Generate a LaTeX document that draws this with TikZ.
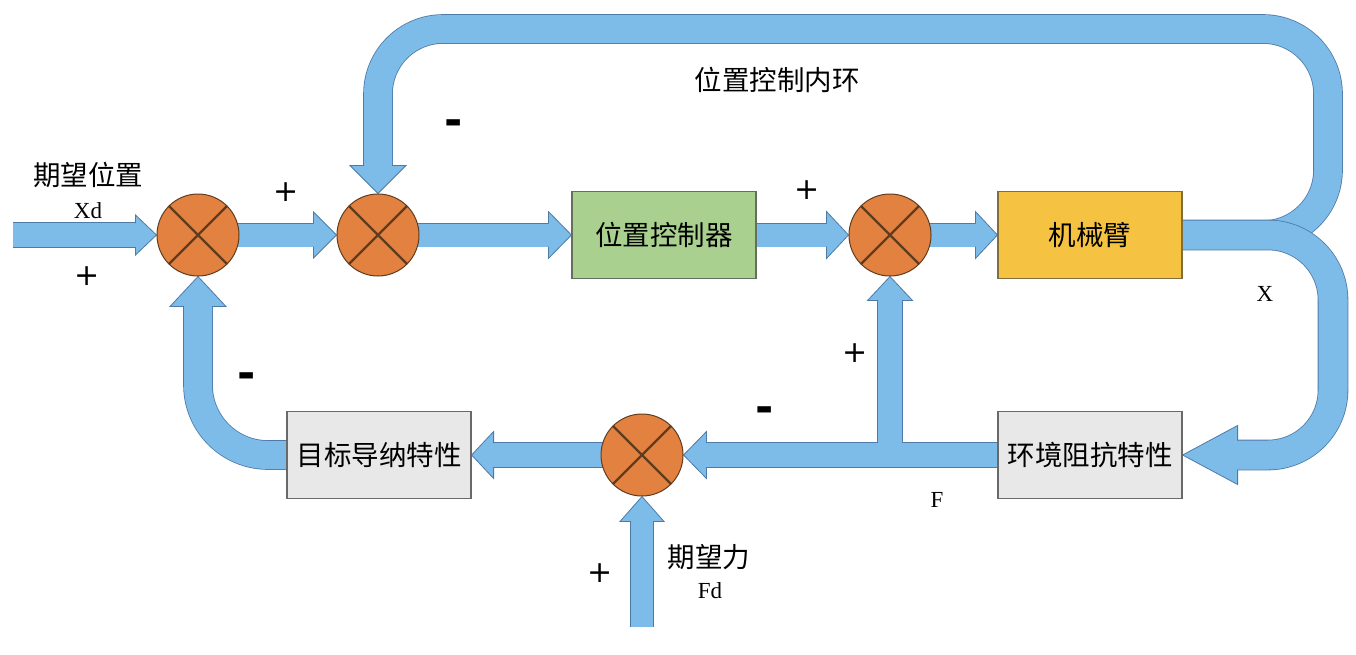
\documentclass[tikz,border=0pt]{standalone}
\usepackage{fontspec}
\setmainfont{Noto Sans CJK SC}
\newfontfamily\latinserif{Liberation Serif}
\newfontfamily\symsans{DejaVu Sans}
\usetikzlibrary{calc}
\definecolor{afill}{RGB}{125,188,232}
\definecolor{aline}{RGB}{78,122,168}
\definecolor{sumfill}{RGB}{226,129,64}
\definecolor{sumline}{RGB}{95,60,30}
\definecolor{ctrlfill}{RGB}{169,208,142}
\definecolor{ctrlline}{RGB}{100,112,92}
\definecolor{armfill}{RGB}{245,194,66}
\definecolor{armline}{RGB}{130,110,60}
\definecolor{grayfill}{RGB}{232,232,232}
\definecolor{grayline}{RGB}{105,105,105}
\pgfdeclarelayer{bg}
\pgfsetlayers{bg,main}
\tikzset{
  sumnode/.style={circle, draw=sumline, line width=1pt, fill=sumfill, minimum size=82pt, inner sep=0pt},
  crossline/.style={draw=sumline, line width=2.4pt},
  blk/.style={rectangle, minimum width=184pt, minimum height=87pt, line width=1.2pt, inner sep=0pt, font=\fontsize{27.5}{30}\selectfont},
  ctrlbox/.style={blk, fill=ctrlfill, draw=ctrlline},
  armbox/.style={blk, fill=armfill, draw=armline},
  graybox/.style={blk, fill=grayfill, draw=grayline},
  shaft/.style={draw=afill, line width=#1, preaction={draw=aline, line width=#1+1.6pt}},
  pics/ahead/.style args={#1/#2/#3}{code={
    \fill[afill] (0,0) -- (-#1,#2) -- (-#1,-#2) -- cycle;
    \draw[aline, line width=0.8pt, line join=miter] (-#1,#3) -- (-#1,#2) -- (0,0) -- (-#1,-#2) -- (-#1,-#3);
  }},
  cjk/.style={font=\fontsize{27.5}{30}\selectfont},
  lat/.style={font=\latinserif\fontsize{23}{26}\selectfont},
  plussign/.style={font=\symsans\fontsize{30}{32}\selectfont},
  minussign/.style={font=\symsans\bfseries\fontsize{44}{46}\selectfont},
}
\begin{document}
\begin{tikzpicture}[x=1pt,y=1pt]
\useasboundingbox (0,0) rectangle (1356,-654);
% nodes
\node[sumnode] (s1) at (198,-235) {};
\node[sumnode] (s2) at (378,-235) {};
\node[sumnode] (s3) at (890,-235) {};
\node[sumnode] (s4) at (642,-455) {};
\node[ctrlbox] (ctrl) at (664,-235) {位置控制器};
\node[armbox] (arm) at (1090,-235) {机械臂};
\node[graybox] (env) at (1090,-455) {环境阻抗特性};
\node[graybox] (adm) at (379,-455) {目标导纳特性};
\foreach \s in {s1,s2,s3,s4}
  \draw[crossline] (\s.north west) -- (\s.south east) (\s.north east) -- (\s.south west);
% labels
\node[cjk] (tloop) at (777,-80) {位置控制内环};
\node[cjk] (xdname) at (88,-175) {期望位置};
\node[lat] (xd) at (88,-211) {Xd};
\node[cjk] (fdname) at (709,-557) {期望力};
\node[lat] (fd) at (710,-591) {Fd};
\node[lat] (xlab) at (1265,-294) {X};
\node[lat] (flab) at (937,-500) {F};
\node[plussign] (p1) at (87,-276) {+};
\node[plussign] (p2) at (286,-192) {+};
\node[plussign] (p3) at (807,-190) {+};
\node[plussign] (p4) at (855,-353) {+};
\node[plussign] (p5) at (600,-573) {+};
\node[minussign] (m1) at (454,-128) {-};
\node[minussign] (m2) at (247,-381) {-};
\node[minussign] (m3) at (765,-415) {-};
% arrows
\begin{pgfonlayer}{bg}
\fill[white] (0,0) rectangle (1356,-654);
\coordinate (xin) at (13,-235);
\coordinate (fdin) at (642,-627);
\coordinate (fb) at (s3.center |- env.center);
% top loop
\draw[shaft=28pt, rounded corners=65pt] (arm.center) -- (1328,-235) -- (1328,-29) -- (s2.center |- 0,-29) -- ($(s2.north)+(0,26)$);
\pic[rotate=-90] at (s2.north) {ahead=28/28/14};
% X loop
\draw[shaft=29pt, rounded corners=65pt] (arm.center) -- (1333,-235) -- (1333,-455) -- ($(env.east)+(53,0)$);
\pic[rotate=180] at (env.east) {ahead=55/29.5/14.5};
% input
\draw[shaft=24pt] (xin) -- ($(s1.west)+(-19,0)$);
\pic at (s1.west) {ahead=21/20/12};
\draw[shaft=23pt] (s1.center) -- ($(s2.west)+(-21,0)$);
\pic at (s2.west) {ahead=23/23/11.5};
\draw[shaft=23pt] (s2.center) -- ($(ctrl.west)+(-21,0)$);
\pic at (ctrl.west) {ahead=23/23.5/11.5};
\draw[shaft=23pt] (ctrl.center) -- ($(s3.west)+(-20,0)$);
\pic at (s3.west) {ahead=22/23.5/11.5};
\draw[shaft=23pt] (s3.center) -- ($(arm.west)+(-20,0)$);
\pic at (arm.west) {ahead=22/23.5/11.5};
% F line and branch
\draw[shaft=24pt] (env.center) -- ($(s4.east)+(21,0)$) (fb) -- ($(s3.south)+(0,-22)$);
\pic[rotate=180] at (s4.east) {ahead=23/23.5/12};
\pic[rotate=90] at (s3.south) {ahead=24/22.5/12};
% s4 -> adm
\draw[shaft=24pt] (s4.center) -- ($(adm.east)+(20,0)$);
\pic[rotate=180] at (adm.east) {ahead=22/23.5/12};
% Fd
\draw[shaft=22pt] (fdin) -- ($(s4.south)+(0,-23)$);
\pic[rotate=90] at (s4.south) {ahead=25/22/11};
% left feedback
\draw[shaft=28pt, rounded corners=70pt] (adm.center) -- (s1.center |- adm.center) -- ($(s1.south)+(0,-28)$);
\pic[rotate=90] at (s1.south) {ahead=30/28/14};
\end{pgfonlayer}
\end{tikzpicture}
\end{document}
